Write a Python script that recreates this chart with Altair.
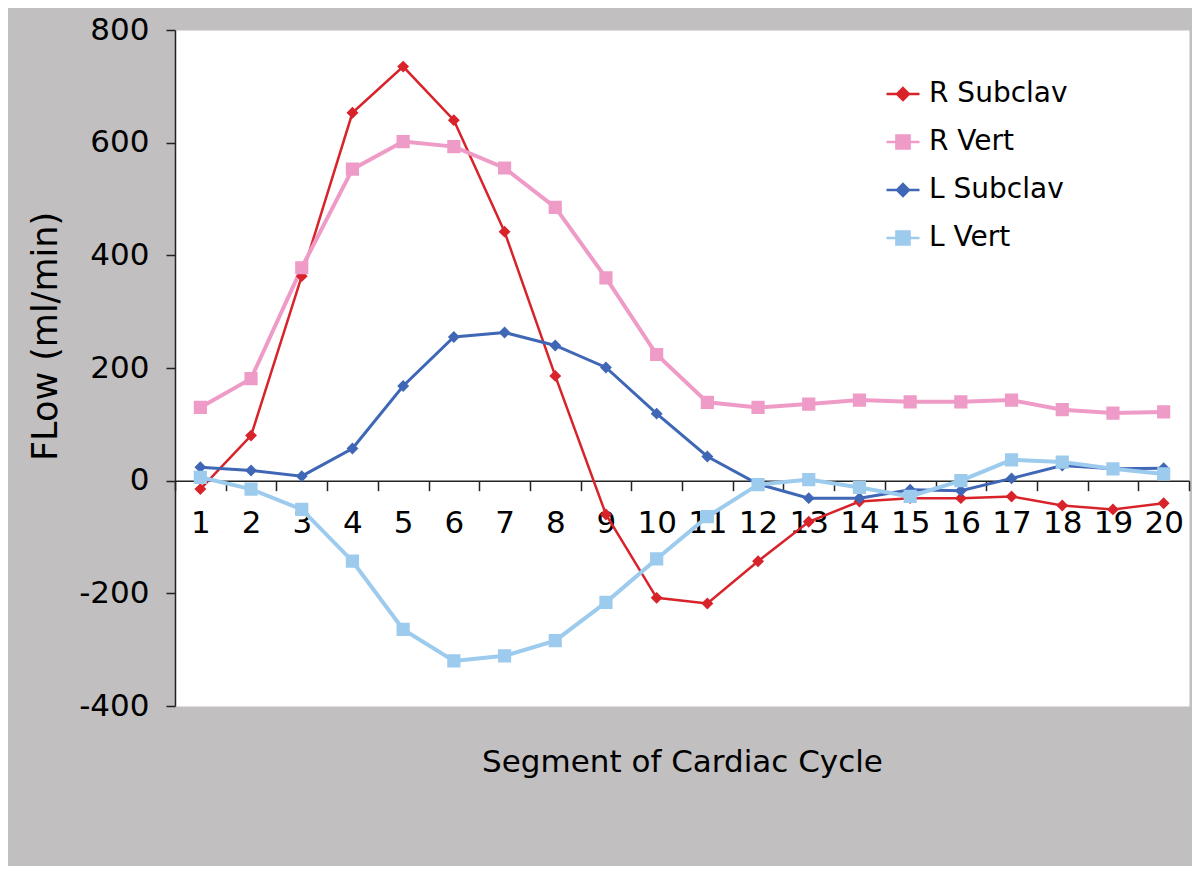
import altair as alt
import pandas as pd

# ---------------- data ----------------
segments = list(range(1, 21))
series_names = ["R Subclav", "R Vert", "L Subclav", "L Vert"]
r_subclav = [-15, 80, 363, 653, 735, 640, 442, 186, -60, -208,
             -218, -143, -73, -37, -31, -31, -28, -44, -51, -40]
r_vert = [130, 181, 378, 553, 602, 593, 555, 485, 360, 224,
          139, 130, 136, 143, 140, 140, 143, 126, 120, 122]
l_subclav = [24, 18, 8, 57, 168, 255, 263, 240, 201, 119,
             43, -6, -31, -31, -16, -18, 4, 27, 21, 22]
l_vert = [6, -15, -51, -143, -264, -320, -311, -284, -216, -139,
          -64, -7, 2, -12, -28, 0, 37, 33, 21, 12]
y_ticks = [-400, -200, 0, 200, 400, 600, 800]

# ---------------- styles ----------------
colors = ["#d8232a", "#ef9bc7", "#3f67b6", "#9dcbee"]
line_widths = [2.5, 4, 3, 4]
DIAMOND = "M-1,0L1,0M0,-0.36L0.36,0L0,0.36L-0.36,0Z"
SQUARE = "M-1,0L1,0M-0.4,-0.4L0.4,-0.4L0.4,0.4L-0.4,0.4Z"
shape_paths = [DIAMOND, SQUARE, DIAMOND, SQUARE]

rows = []
for name, vals in zip(series_names, [r_subclav, r_vert, l_subclav, l_vert]):
    for s, v in zip(segments, vals):
        rows.append({"segment": s, "series": name, "flow": v})
df = pd.DataFrame(rows)

W, H = 1014, 676
FONT = "DejaVu Sans"

x_enc = alt.X(
    "segment:O",
    bandPosition=0.5,
    scale=alt.Scale(type="band", paddingInner=0, paddingOuter=0),
    axis=alt.Axis(
        title="Segment of Cardiac Cycle",
        orient="bottom",
        offset=-H / 3,
        labelAngle=0,
        tickBand="extent",
        tickSize=10,
        tickColor="#222222",
        tickWidth=1.5,
        domainColor="#222222",
        domainWidth=1.5,
        labelFont=FONT,
        labelFontSize=31,
        labelColor="black",
        labelPadding=18,
        titleFont=FONT,
        titleFontSize=31,
        titleFontWeight="normal",
        titleColor="black",
        titleY=291,
        titleBaseline="alphabetic",
    ),
)
y_enc = alt.Y(
    "flow:Q",
    scale=alt.Scale(domain=[-400, 800], nice=False, zero=False),
    axis=alt.Axis(
        values=y_ticks,
        labelExpr="'' + datum.value",
        title="FLow (ml/min)",
        grid=False,
        tickSize=9,
        tickColor="#222222",
        tickWidth=1.5,
        domainColor="#222222",
        domainWidth=1.5,
        labelFont=FONT,
        labelFontSize=31,
        labelColor="black",
        labelPadding=17,
        titleFont=FONT,
        titleFontSize=35,
        titleFontWeight="normal",
        titleColor="black",
        titleX=-130,
        titleY=306,
        titleAngle=270,
        titleAlign="center",
        titleBaseline="middle",
    ),
)

legend = alt.Legend(
    title=None,
    orient="none",
    legendX=710,
    legendY=46,
    labelFont=FONT,
    labelFontSize=28,
    labelColor="black",
    labelOffset=8,
    symbolSize=1089,
    symbolStrokeWidth=2.5,
    rowPadding=16,
    padding=0,
)

base = alt.Chart(df)
layers = []
for name, c, w in zip(series_names, colors, line_widths):
    layers.append(
        base.transform_filter(alt.datum.series == name)
        .mark_line(strokeWidth=w, color=c)
        .encode(x=x_enc, y=y_enc)
    )

points = base.mark_point(filled=True, size=1089, opacity=1).encode(
    x=x_enc,
    y=y_enc,
    color=alt.Color("series:N", scale=alt.Scale(domain=series_names, range=colors), legend=legend),
    stroke=alt.Stroke("series:N", scale=alt.Scale(domain=series_names, range=colors), legend=legend),
    shape=alt.Shape("series:N", scale=alt.Scale(domain=series_names, range=shape_paths), legend=legend),
    strokeWidth=alt.value(0),
)
layers.append(points)

chart = (
    alt.layer(*layers)
    .properties(
        width=W,
        height=H,
        autosize=alt.AutoSizeParams(type="none"),
        padding={"left": 167, "top": 22, "right": 3, "bottom": 160},
        background="#c1bfc0",
    )
    .configure(font=FONT)
    .configure_view(fill="white", stroke="transparent")
)

chart.save("out.html", embed_options={"renderer": "svg", "actions": False})
